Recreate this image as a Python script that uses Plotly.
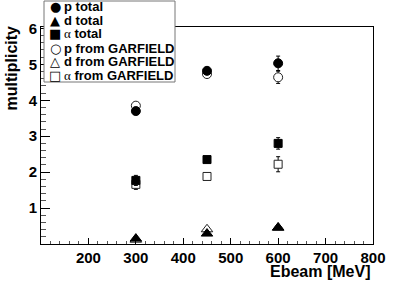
import plotly.graph_objects as go

# ---- data ----
ebeam = [300, 450, 600]
p_total = [3.70, 4.82, 5.03]
p_total_err = [0.05, 0.0, 0.20]
d_total = [0.15, 0.29, 0.46]
d_total_err = [0.0, 0.0, 0.0]
a_total = [1.77, 2.35, 2.80]
a_total_err = [0.14, 0.0, 0.16]
p_garf = [3.85, 4.73, 4.64]
p_garf_err = [0.05, 0.0, 0.17]
d_garf = [0.12, 0.41, 0.45]
d_garf_err = [0.0, 0.0, 0.0]
a_garf = [1.66, 1.88, 2.22]
a_garf_err = [0.14, 0.0, 0.21]

x_ticks = [200, 300, 400, 500, 600, 700, 800]
y_ticks = [1, 2, 3, 4, 5, 6]

legend_rows = [
    ("●", "<b>p total</b>"),
    ("▲", "<b>d total</b>"),
    ("■", "<span style='font-family:Liberation Serif'>α</span> <b>total</b>"),
    ("○", "<b>p from GARFIELD</b>"),
    ("△", "<b>d from GARFIELD</b>"),
    ("□", "<span style='font-family:Liberation Serif'>α</span> <b>from GARFIELD</b>"),
]

fig = go.Figure()

def add(y, err, symbol, size, name, fill, edge):
    fig.add_trace(go.Scatter(
        x=ebeam, y=y, mode="markers", name=name, showlegend=False,
        marker=dict(symbol=symbol, size=size, color=fill,
                    line=dict(color=edge, width=1)),
        error_y=dict(type="data", array=err, color="black", thickness=1, width=2,
                     visible=any(e > 0 for e in err)),
        cliponaxis=False,
    ))

add(p_garf, p_garf_err, "circle", 9, "p from GARFIELD", "white", "#222")
add(d_garf, d_garf_err, "triangle-up", 10, "d from GARFIELD", "white", "#222")
add(a_garf, a_garf_err, "square", 8, "α from GARFIELD", "white", "#222")
add(p_total, p_total_err, "circle", 9, "p total", "black", "black")
add(d_total, d_total_err, "triangle-up", 10, "d total", "black", "black")
add(a_total, a_total_err, "square", 8, "α total", "black", "black")

W, H = 415, 281
L, R, T, B = 41, 42, 27, 37
pw, ph = W - L - R, H - T - B

def px_x(px):
    return (px - L) / pw

def px_y(py):
    return (H - B - py) / ph

axis_font = dict(family="Liberation Sans", size=15, color="black", weight="bold")

fig.update_xaxes(
    range=[100, 800], tickmode="array", tickvals=x_ticks, ticktext=[str(v) for v in x_ticks],
    ticks="inside", ticklen=6, tickcolor="black", tickwidth=1,
    minor=dict(dtick=20, tick0=0, ticks="inside", ticklen=3, tickcolor="#555"),
    showline=True, linecolor="black", linewidth=1, mirror=True,
    showgrid=False, zeroline=False, tickfont=axis_font,
)
fig.update_yaxes(
    range=[0, 6.04], tickmode="array", tickvals=y_ticks, ticktext=[str(v) for v in y_ticks],
    ticks="inside", ticklen=9, tickcolor="black", tickwidth=1,
    minor=dict(dtick=0.2, tick0=0, ticks="inside", ticklen=5, tickcolor="#555"),
    showline=True, linecolor="black", linewidth=1, mirror=True,
    showgrid=False, zeroline=False, tickfont=axis_font,
)

annotations = [
    dict(text="<b>Ebeam [MeV]</b>", xref="paper", yref="paper", x=px_x(372), y=px_y(271),
         xanchor="right", yanchor="middle", showarrow=False,
         font=dict(family="Liberation Sans", size=16, color="black")),
    dict(text="<b>multiplicity</b>", xref="paper", yref="paper", x=px_x(11), y=px_y(24),
         xanchor="center", yanchor="top", textangle=-90, showarrow=False,
         font=dict(family="Liberation Sans", size=16, color="black")),
]

row_y = [7, 21, 34, 48, 61, 75]
for (glyph, label), yy in zip(legend_rows, row_y):
    annotations.append(dict(text=glyph, xref="paper", yref="paper", x=px_x(55), y=px_y(yy),
                            xanchor="center", yanchor="middle", showarrow=False,
                            font=dict(family="DejaVu Sans", size=13, color="black")))
    annotations.append(dict(text=label, xref="paper", yref="paper", x=px_x(62), y=px_y(yy),
                            xanchor="left", yanchor="middle", showarrow=False,
                            font=dict(family="Liberation Sans", size=13, color="black")))

fig.update_layout(
    width=W, height=H,
    margin=dict(l=L, r=R, t=T, b=B),
    paper_bgcolor="white", plot_bgcolor="white",
    showlegend=False,
    annotations=annotations,
    shapes=[dict(type="rect", xref="paper", yref="paper",
                 x0=px_x(44), x1=px_x(175), y0=px_y(82), y1=px_y(1),
                 fillcolor="white", line=dict(color="#777", width=1), layer="above")],
)

fig.write_html("out.html", config={"displayModeBar": False},
               post_script="document.body.style.margin='0';")
